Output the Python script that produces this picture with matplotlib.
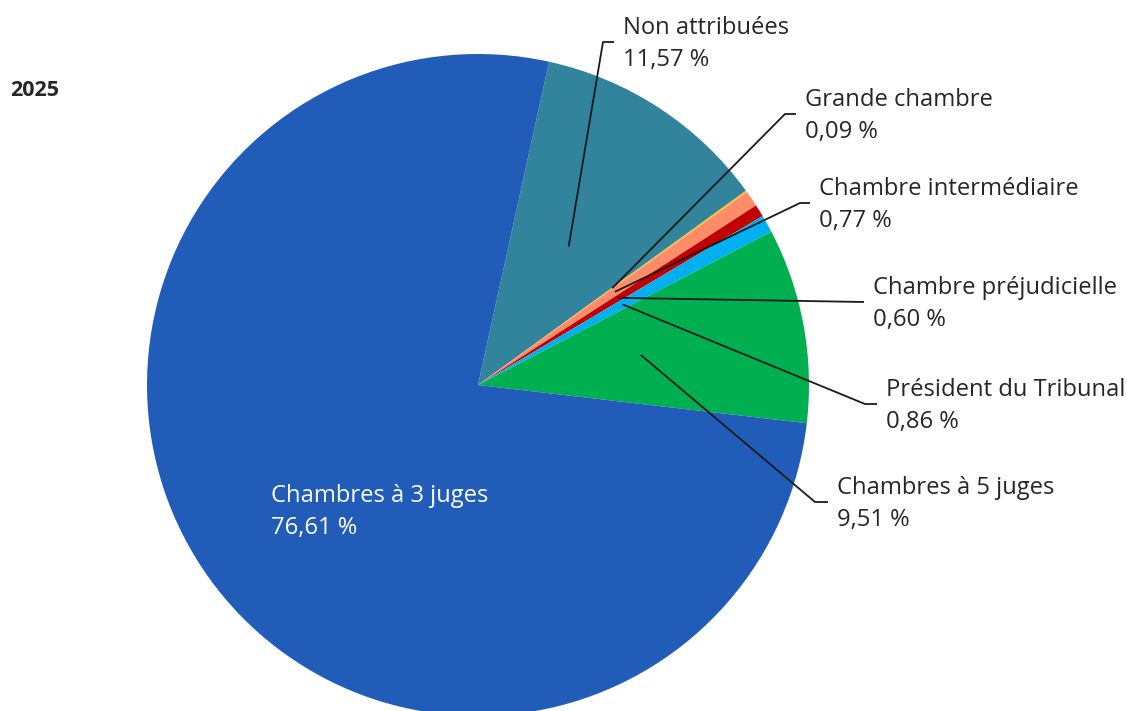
import matplotlib.pyplot as plt
import numpy as np

# data
labels = ['Non attribuées', 'Grande chambre', 'Chambre intermédiaire',
          'Chambre préjudicielle', 'Président du Tribunal',
          'Chambres à 5 juges', 'Chambres à 3 juges']
values = [11.57, 0.09, 0.77, 0.60, 0.86, 9.51, 76.61]
pct_text = ['11,57 %', '0,09 %', '0,77 %', '0,60 %', '0,86 %', '9,51 %', '76,61 %']
colors = ['#31849b', '#f2c12e', '#ff8c69', '#c00000', '#00b0f0', '#00b050', '#215cb8']

W, H = 1127, 711
fig = plt.figure(figsize=(W/100, H/100), dpi=100)
ax = fig.add_axes([0, 0, 1, 1])

plt.rcParams['font.family'] = ['Open Sans', 'DejaVu Sans']

cx, cy, R = 478, H - 385, 331
wedges, _ = ax.pie(values, colors=colors, startangle=77.6, counterclock=False,
                   center=(cx, cy), radius=R, frame=True,
                   wedgeprops=dict(linewidth=0))
ax.set_xlim(0, W)
ax.set_ylim(0, H)
ax.set_aspect('equal')
ax.axis('off')

# label layout: (kink x, kink y, end x) in pixels from top-left
layout = {
    'Non attribuées': (603, 42, 614),
    'Grande chambre': (785, 114, 796),
    'Chambre intermédiaire': (800, 203, 810),
    'Chambre préjudicielle': (864, 302, 864),
    'Président du Tribunal': (865, 404, 877),
    'Chambres à 5 juges': (815, 502, 828),
}
fs = 17.1
ls = 1.42
for w, lab, pct in zip(wedges, labels, pct_text):
    mid = np.deg2rad((w.theta1 + w.theta2) / 2)
    if lab == 'Chambres à 3 juges':
        ax.text(271, H - 512, lab + '\n' + pct, color='white', fontsize=fs,
                ha='left', va='center', linespacing=ls)
        continue
    ax0, ay0 = cx + 0.5 * R * np.cos(mid), cy + 0.5 * R * np.sin(mid)
    kx, ky, ex = layout[lab]
    ax.plot([ax0, kx, ex], [ay0, H - ky, H - ky], color='#1a1a1a', lw=1.3,
            solid_capstyle='butt')
    ax.text(ex + 9, H - ky - 2, lab + '\n' + pct, color='#262626', fontsize=fs,
            ha='left', va='center', linespacing=ls)

ax.text(10, H - 91, '2025', fontsize=15.5, fontweight='bold', color='#262626',
        ha='left', va='center')

fig.savefig('out.png', dpi=100)
